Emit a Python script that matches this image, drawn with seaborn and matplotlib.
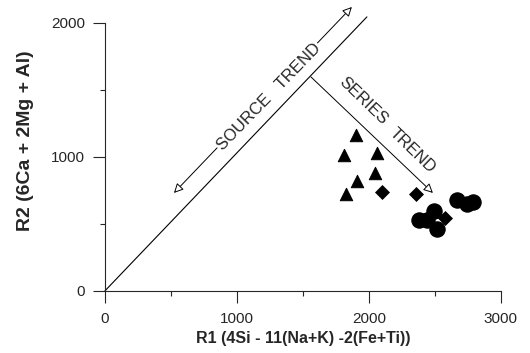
import numpy as np
import pandas as pd
import matplotlib
matplotlib.use("Agg")
import matplotlib.pyplot as plt
import seaborn as sns

# data
tri_r1 = [1902, 1811, 2061, 2045, 1909, 1826]
tri_r2 = [1164, 1015, 1030, 881, 821, 724]
dia_r1 = [2098, 2356, 2576]
dia_r2 = [739, 724, 545]
cir_r1 = [2667, 2742, 2788, 2492, 2379, 2440, 2515]
cir_r2 = [679, 650, 664, 597, 530, 530, 463]

# trend lines
source_line_x = [0, 1985]
source_line_y = [0, 2045]
source_arrow = [(523, 731), (1871, 2119)]
series_arrow = [(1561, 1597), (2485, 731)]

x_ticks = [0, 1000, 2000, 3000]
y_ticks = [0, 1000, 2000]

sns.set_style("ticks")
plt.rcParams["font.family"] = ["Liberation Sans", "DejaVu Sans"]

fig = plt.figure(figsize=(5.3, 3.53), dpi=100)
ax = fig.add_axes([0.198, 0.176, 0.747, 0.759])

sns.lineplot(x=source_line_x, y=source_line_y, ax=ax, color="black", lw=0.8)
ax.lines[-1].set_clip_on(False)

sns.scatterplot(x=tri_r1, y=tri_r2, ax=ax, marker="^", s=80, color="black",
                edgecolor="black", zorder=5)
sns.scatterplot(x=dia_r1, y=dia_r2, ax=ax, marker="D", s=50, color="black",
                edgecolor="black", zorder=5)
sns.scatterplot(x=cir_r1, y=cir_r2, ax=ax, marker="o", s=120, color="black",
                edgecolor="black", zorder=5)

ax.annotate("", xy=source_arrow[0], xytext=source_arrow[1], annotation_clip=False,
            arrowprops=dict(arrowstyle="<|-|>", fc="white", ec="black", lw=0.7,
                            mutation_scale=14, shrinkA=0, shrinkB=0))
ax.annotate("", xy=series_arrow[1], xytext=series_arrow[0], annotation_clip=False,
            arrowprops=dict(arrowstyle="-|>", fc="white", ec="black", lw=0.7,
                            mutation_scale=14, shrinkA=0, shrinkB=0))

ax.text(1240, 1450, "SOURCE   TREND", rotation=46, ha="center", va="center",
        rotation_mode="anchor", fontsize=12, zorder=6,
        bbox=dict(fc="white", ec="none", pad=1))
ax.text(1955, 1420, "SERIES", rotation=-44, ha="center", va="center",
        rotation_mode="anchor", fontsize=12)
ax.text(2333, 1050, "TREND", rotation=-44, ha="center", va="center",
        rotation_mode="anchor", fontsize=12)

ax.set_xlim(0, 3000)
ax.set_ylim(0, 2000)
ax.set_xticks(x_ticks)
ax.set_yticks(y_ticks)
ax.set_xticks([500, 1500, 2500], minor=True)
ax.set_yticks([500, 1500], minor=True)
ax.tick_params(which="major", length=8.5, width=0.8, labelsize=11)
ax.tick_params(which="minor", length=3.5, width=0.8)
ax.tick_params(axis="x", which="major", pad=7)
ax.tick_params(axis="y", which="major", pad=6)
ax.set_xlabel("R1 (4Si - 11(Na+K) -2(Fe+Ti))", fontsize=11.5, fontweight="bold")
ax.set_ylabel("R2 (6Ca + 2Mg + Al)", fontsize=14, fontweight="bold")
ax.xaxis.set_label_coords(0.5, -0.15)
ax.yaxis.set_label_coords(-0.18, 0.56)
sns.despine(ax=ax)
for sp in ax.spines.values():
    sp.set_linewidth(0.8)

fig.savefig("out.png", dpi=100)
